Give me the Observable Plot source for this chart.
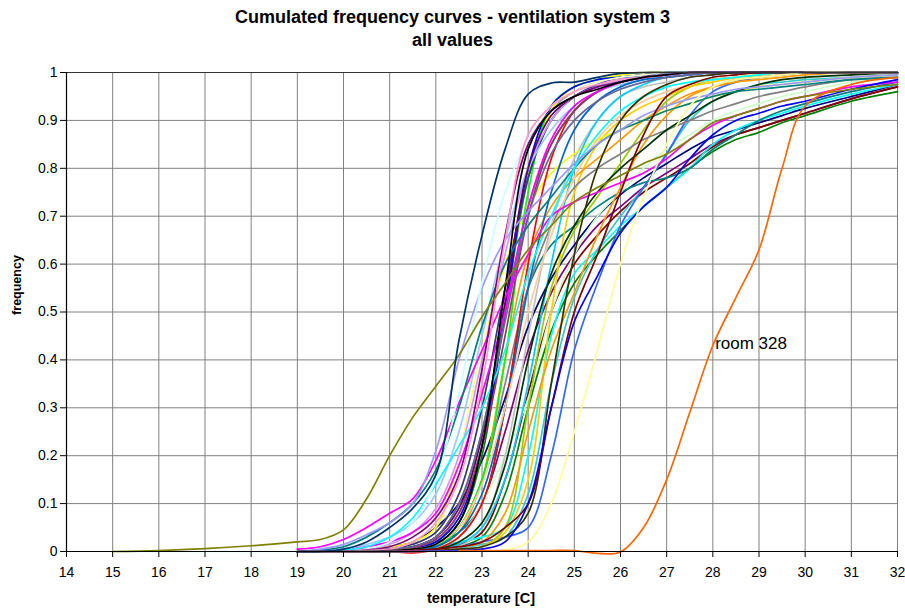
<!DOCTYPE html>
<html><head><meta charset="utf-8">
<script src="https://cdn.jsdelivr.net/npm/d3@7"></script>
<script src="https://cdn.jsdelivr.net/npm/@observablehq/plot@0.6"></script>
<style>
body{margin:0;background:#fff;font-family:"Liberation Sans",Arial,sans-serif;}
#wrap{position:relative;width:905px;height:613px;overflow:hidden;}
.t{position:absolute;left:0;width:905px;text-align:center;font-weight:bold;font-size:18px;line-height:20px;}
#chart{position:absolute;left:0;top:60px;}
#xt{position:absolute;left:381px;width:200px;top:590px;text-align:center;font-weight:bold;font-size:14.5px;line-height:16px;}
#yt{position:absolute;left:-43px;width:120px;top:277px;text-align:center;font-weight:bold;font-size:12.5px;line-height:16px;transform:rotate(-90deg);}
</style></head><body>
<div id="wrap">
<div class="t" style="top:7px">Cumulated frequency curves - ventilation system 3</div>
<div class="t" style="top:30px">all values</div>
<div id="chart"></div>
<div id="xt">temperature [C]</div>
<div id="yt">frequency</div>
</div>
<script>
const temps = [19,19.5,20,20.5,21,21.5,22,22.5,23,23.5,24,24.5,25,25.5,26,26.5,27,27.5,28,28.5,29,29.5,30,31,32];
const earlyTemps = [15,16,17,18];
const oliveEarly = [0,.002,.006,.012];
const lightCyanEarly = [0,0,0,0];
const xTicks = [14,15,16,17,18,19,20,21,22,23,24,25,26,27,28,29,30,31,32];
const yTicks = [0,0.1,0.2,0.3,0.4,0.5,0.6,0.7,0.8,0.9,1];
const labelText = ["room 328"];
const labelT = [28.05];
const labelF = [0.434];

const seriesNames = ["s1","s2","s3","s4","s5","s6","s7","s8","s9","s10","s11","s12","s13","s14","s15","s16","s17","s18","s19","s20","s21","s22","s23","s24","s25","s26","s27","s28","s29","s30","s31","s32","s33","s34","s35","s36","s37","s38","s39","light cyan","s41","s42","s43","s44","s45","s46","s47","olive","room 328","s50"];
const seriesColors = ["#000080","#800080","#800000","#008000","#00FFFF","#008080","#CCFFCC","#33CCCC","#3366FF","#99CC00","#FFCC00","#FF9900","#FF9900","#808080","#C0C0C0","#969696","#FFFF00","#FFFF00","#00FF00","#008000","#FF0000","#0000FF","#00CCFF","#339966","#333399","#FFFFCC","#CC99FF","#99CCFF","#660066","#993366","#0066CC","#666699","#003300","#FFCC99","#FF00FF","#FF00FF","#008080","#00FFFF","#9999FF","#CCFFFF","#800080","#FF99CC","#000000","#333300","#800000","#0000FF","#FFFF99","#808000","#FF6600","#003366"];
const seriesValues = [
[0,0,.002,.005,.01,.02,.05,.1,.19,.32,.47,.57,.64,.7,.745,.78,.81,.84,.865,.88,.895,.91,.925,.95,.975],
[0,0,0,0,.002,.005,.01,.03,.1,.25,.42,.54,.62,.68,.72,.76,.79,.82,.85,.87,.885,.9,.915,.945,.97],
[0,0,0,0,0,.002,.005,.015,.04,.15,.33,.5,.6,.66,.71,.75,.78,.81,.845,.87,.885,.9,.915,.945,.97],
[0,0,0,0,0,.002,.005,.01,.03,.12,.3,.46,.56,.62,.67,.72,.76,.8,.835,.86,.875,.895,.91,.94,.96],
[0,0,0,0,.002,.005,.01,.02,.03,.05,.2,.45,.58,.63,.68,.72,.76,.8,.85,.88,.9,.915,.93,.955,.975],
[0,0,0,.002,.005,.01,.02,.04,.1,.3,.55,.64,.68,.72,.75,.77,.78,.8,.84,.87,.9,.92,.935,.96,.98],
[0,0,0,0,.002,.005,.01,.03,.1,.2,.32,.5,.62,.7,.75,.8,.84,.87,.9,.92,.935,.95,.96,.98,.99],
[0,0,0,0,0,0,.003,.008,.015,.03,.12,.35,.53,.63,.7,.76,.83,.9,.94,.96,.975,.98,.985,.99,.995],
[0,0,0,0,0,.002,.005,.01,.02,.03,.05,.2,.42,.56,.68,.76,.83,.91,.96,.98,.99,.995,1,1,1],
[0,0,0,0,0,0,.002,.005,.01,.05,.3,.55,.67,.74,.81,.88,.94,.97,.985,.99,.995,1,1,1,1],
[0,0,0,0,0,0,.002,.005,.01,.04,.15,.5,.75,.85,.9,.93,.95,.97,.98,.99,.995,1,1,1,1],
[0,0,0,0,0,.002,.005,.01,.02,.08,.25,.42,.54,.66,.76,.85,.91,.95,.97,.985,.99,.995,1,1,1],
[0,0,0,0,.002,.005,.01,.04,.15,.4,.62,.72,.78,.82,.86,.9,.93,.955,.97,.98,.985,.99,.995,1,1],
[0,0,0,0,0,.003,.01,.05,.15,.35,.55,.68,.76,.8,.83,.86,.88,.9,.92,.935,.95,.96,.97,.985,.99],
[0,0,0,0,0,.002,.005,.01,.05,.2,.45,.68,.82,.9,.95,.97,.98,.99,.995,1,1,1,1,1,1],
[0,0,0,0,.002,.005,.02,.08,.25,.5,.78,.92,.96,.98,.99,.995,1,1,1,1,1,1,1,1,1],
[0,0,0,.005,.01,.02,.05,.2,.42,.6,.72,.79,.83,.86,.88,.9,.92,.935,.95,.96,.97,.975,.98,.99,.995],
[0,0,0,0,.005,.015,.04,.12,.3,.55,.78,.92,.97,.985,.995,1,1,1,1,1,1,1,1,1,1],
[0,0,0,0,0,.002,.01,.05,.15,.4,.75,.93,.97,.985,.99,.995,1,1,1,1,1,1,1,1,1],
[0,0,0,0,.002,.005,.015,.06,.2,.5,.78,.9,.95,.97,.985,.99,.995,1,1,1,1,1,1,1,1],
[0,0,0,0,0,-.003,.005,.03,.1,.3,.6,.82,.92,.96,.98,.99,.995,1,1,1,1,1,1,1,1],
[0,0,0,0,.002,.006,.02,.07,.22,.5,.8,.93,.97,.985,.99,.995,1,1,1,1,1,1,1,1,1],
[0,0,0,0,0,.002,.005,.015,.05,.15,.35,.6,.8,.9,.95,.975,.99,.995,1,1,1,1,1,1,1],
[0,0,0,.002,.005,.01,.03,.1,.25,.5,.72,.85,.92,.96,.98,.99,.995,1,1,1,1,1,1,1,1],
[0,0,0,.002,.005,.015,.04,.12,.3,.55,.78,.9,.95,.975,.99,.995,1,1,1,1,1,1,1,1,1],
[0,0,0,.002,.01,.03,.07,.2,.42,.66,.85,.93,.96,.98,.99,.995,1,1,1,1,1,1,1,1,1],
[0,0,.002,.005,.015,.04,.09,.2,.4,.62,.8,.9,.95,.97,.985,.99,.995,1,1,1,1,1,1,1,1],
[0,.002,.006,.015,.03,.06,.12,.25,.45,.65,.8,.88,.93,.96,.975,.985,.99,.995,1,1,1,1,1,1,1],
[0,0,0,0,.003,.01,.03,.09,.24,.52,.8,.91,.95,.97,.98,.99,.995,1,1,1,1,1,1,1,1],
[0,0,0,0,.002,.008,.025,.08,.22,.45,.7,.85,.92,.96,.98,.99,.995,1,1,1,1,1,1,1,1],
[0,0,0,0,0,.003,.01,.04,.12,.3,.55,.75,.88,.94,.97,.985,.99,.995,1,1,1,1,1,1,1],
[0,0,0,.002,.005,.01,.03,.1,.25,.48,.7,.83,.9,.94,.965,.98,.99,.995,1,1,1,1,1,1,1],
[0,0,0,0,0,.002,.005,.02,.06,.18,.4,.58,.68,.75,.8,.84,.88,.91,.94,.96,.975,.985,.99,.995,1],
[0,0,0,0,.002,.005,.015,.05,.14,.3,.5,.66,.78,.86,.91,.94,.96,.975,.985,.99,.995,1,1,1,1],
[0,0,.002,.01,.02,.04,.08,.18,.33,.5,.72,.86,.93,.96,.98,.99,.995,1,1,1,1,1,1,1,1],
[.005,.01,.025,.05,.08,.11,.19,.31,.42,.53,.62,.7,.73,.75,.77,.79,.82,.86,.89,.91,.925,.94,.95,.97,.98],
[0,.003,.01,.03,.06,.1,.17,.3,.47,.6,.68,.74,.8,.85,.88,.9,.92,.935,.95,.96,.965,.97,.975,.985,.99],
[0,0,.003,.01,.03,.07,.14,.22,.3,.42,.58,.7,.8,.87,.92,.95,.97,.98,.985,.99,.995,1,1,1,1],
[0,.005,.015,.035,.06,.1,.21,.4,.55,.65,.71,.76,.81,.85,.88,.91,.93,.945,.955,.965,.97,.975,.98,.99,.995],
[0,0,0,.005,.02,.06,.15,.33,.56,.75,.86,.92,.95,.97,.98,.99,.995,1,1,1,1,1,1,1,1],
[0,0,0,.003,.01,.03,.07,.16,.38,.66,.85,.92,.95,.97,.98,.99,.995,1,1,1,1,1,1,1,1],
[0,0,0,.002,.005,.02,.06,.15,.35,.65,.87,.93,.96,.975,.985,.99,.995,1,1,1,1,1,1,1,1],
[0,0,0,0,.002,.005,.015,.06,.22,.55,.84,.92,.95,.965,.98,.99,.995,1,1,1,1,1,1,1,1],
[0,0,0,0,0,0,.002,.005,.01,.03,.08,.35,.62,.8,.9,.95,.975,.99,.995,1,1,1,1,1,1],
[0,0,0,0,0,.002,.005,.01,.02,.05,.1,.3,.5,.62,.75,.87,.95,.975,.99,.995,1,1,1,1,1],
[0,0,0,0,0,0,.001,.002,.005,.02,.1,.3,.48,.575,.665,.72,.76,.82,.87,.9,.915,.93,.94,.965,.985],
[0,0,0,0,0,0,0,0,.001,.003,.02,.1,.25,.42,.6,.74,.85,.93,.97,.985,.99,.995,1,1,1],
[.02,.025,.045,.11,.2,.28,.345,.41,.49,.56,.63,.68,.73,.76,.785,.81,.83,.86,.895,.91,.925,.94,.95,.965,.975],
[null,null,null,null,null,null,null,.002,.002,.002,.002,.002,.002,-.004,-.001,.05,.15,.29,.43,.53,.63,.8,.93,.975,.99],
[0,0,.005,.02,.05,.09,.16,.44,.66,.84,.955,.978,.98,.99,.998,1,1,1,1,1,1,1,1,1,1]
];

const earlyByName = {"olive": oliveEarly, "light cyan": lightCyanEarly};
const rows = [];
seriesNames.forEach((name, si) => {
  const early = earlyByName[name];
  if (early) early.forEach((v, i) => rows.push({name, color: seriesColors[si], t: earlyTemps[i], f: v}));
  seriesValues[si].forEach((v, i) => {
    if (v !== null) rows.push({name, color: seriesColors[si], t: temps[i], f: v});
  });
});
const labels = labelText.map((s, i) => ({label: s, t: labelT[i], f: labelF[i]}));

const chart = Plot.plot({
  width: 905,
  height: 553,
  marginTop: 12,
  marginBottom: 62,
  marginLeft: 66,
  marginRight: 8,
  x: {domain: [14, 32]},
  y: {domain: [0, 1]},
  color: {type: "identity"},
  style: {fontFamily: '"Liberation Sans", Arial, sans-serif', fontSize: "14px", color: "#000", background: "#fff", overflow: "visible"},
  marks: [
    Plot.ruleX(xTicks, {stroke: "#808080", strokeWidth: 1}),
    Plot.ruleY(yTicks, {stroke: "#808080", strokeWidth: 1}),
    Plot.line(rows, {x: "t", y: "f", z: "name", stroke: "color", strokeWidth: 1.7, curve: "catmull-rom"}),
    Plot.ruleY([1], {stroke: "#333"}),
    Plot.ruleY([0], {stroke: "#000", strokeWidth: 1.2}),
    Plot.ruleX([14], {stroke: "#000", strokeWidth: 1.2}),
    Plot.axisX({ticks: xTicks, tickSize: 6, tickPadding: 10, tickFormat: d => String(d), label: null, stroke: "#000"}),
    Plot.axisY({ticks: yTicks, tickSize: 6, tickPadding: 3, tickFormat: d => String(d), label: null, stroke: "#000"}),
    Plot.text(labels, {x: "t", y: "f", text: "label", textAnchor: "start", fontSize: 17, fill: "#000"})
  ]
});
document.getElementById("chart").appendChild(chart);
</script>
</body></html>
